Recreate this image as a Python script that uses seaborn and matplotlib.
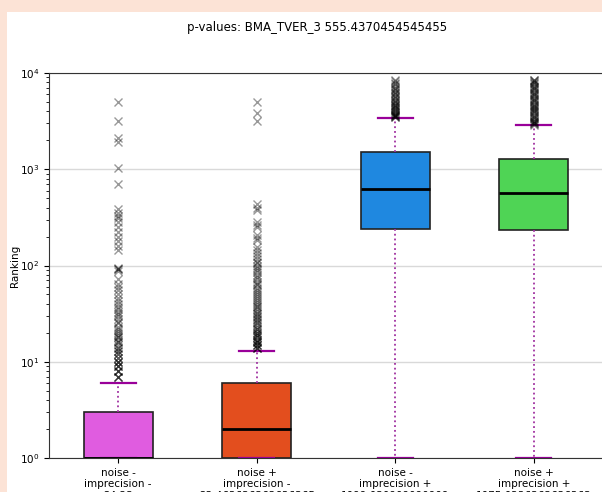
import matplotlib
matplotlib.use("Agg")
import matplotlib.pyplot as plt
from matplotlib.patches import Rectangle
import numpy as np
import pandas as pd
import seaborn as sns

# Experimental conditions (one box each) and their axis labels
groups = ["noise-/imprecision-", "noise+/imprecision-", "noise-/imprecision+", "noise+/imprecision+"]
tick_labels = [
    "noise -\nimprecision -\n24.23",
    "noise +\nimprecision -\n23.463636363636365",
    "noise -\nimprecision +\n1099.030909090909",
    "noise +\nimprecision +\n1075.0236363636363",
]
box_colors = ["#e05ce0", "#e34e1e", "#1f88e0", "#4fd455"]

# Five-number summaries of the rankings per condition
whisker_low = [1, 1, 1, 1]
lower_quartile = [1, 1, 239, 234]
median = [1, 2, 623, 567]
upper_quartile = [3, 6, 1511, 1290]
whisker_high = [6, 13, 3383, 2863]

# Rankings beyond the upper whisker
outliers_nn = [7, 7, 7, 8, 8, 8, 9, 9, 9, 10, 10, 10, 11, 11, 12, 12, 13, 13, 14, 14,
               15, 16, 16, 17, 18, 18, 19, 20, 21, 22, 23, 25, 26, 28, 30, 31, 33, 35,
               37, 40, 43, 46, 50, 55, 60, 65, 72, 88, 91, 93, 95, 145, 160, 180, 200,
               225, 250, 280, 310, 330, 350, 390, 700, 1040, 1930, 2130, 3180, 5040]
outliers_pn = [14, 14, 14, 15, 15, 15, 16, 16, 16, 17, 17, 18, 18, 19, 19, 20, 20, 21,
               22, 22, 23, 24, 25, 26, 27, 28, 29, 30, 31, 32, 34, 35, 37, 38, 40, 42,
               44, 46, 48, 50, 53, 56, 59, 62, 65, 68, 72, 76, 80, 85, 90, 95, 100, 105,
               110, 118, 125, 135, 145, 155, 183, 195, 208, 252, 265, 283, 380, 400, 435,
               3180, 3820, 5040]
outliers_ni = [3450, 3500, 3550, 3600, 3650, 3700, 3780, 3850, 3900, 4000, 4100, 4200,
               4300, 4400, 4500, 4600, 4700, 4850, 5000, 5150, 5300, 5450, 5600, 5800,
               6000, 6200, 6400, 6600, 6800, 7000, 7300, 7600, 7900, 8200, 8400]
outliers_pi = [2900, 2950, 3000, 3050, 3100, 3150, 3200, 3300, 3400, 3500, 3600, 3700,
               3800, 3900, 4000, 4100, 4200, 4300, 4400, 4500, 4650, 4800, 4950, 5100,
               5250, 5400, 5550, 5700, 5850, 6000, 6200, 6400, 6600, 6800, 7000, 7200,
               7400, 7600, 7800, 8000, 8200, 8400, 8500]
outliers = [outliers_nn, outliers_pn, outliers_ni, outliers_pi]

# Number of repeats per summary level so the quartiles come out as stated
body_weight = 120

records = []
for g, lo, q1, med, q3, hi, out in zip(groups, whisker_low, lower_quartile, median,
                                       upper_quartile, whisker_high, outliers):
    vals = [lo] + [q1] * body_weight + [med] * body_weight + [q3] * body_weight + [hi] + list(out)
    records.extend((g, v) for v in vals)
df = pd.DataFrame(records, columns=["group", "ranking"])

W, H = 602, 492
fig = plt.figure(figsize=(W / 100, H / 100), dpi=100, facecolor="#fce3d6")
fig.patches.append(Rectangle((7 / W, 0), 1, (H - 12) / H, transform=fig.transFigure,
                             facecolor="white", edgecolor="none", zorder=-10))

ax = fig.add_axes([49 / W, 34 / H, 554 / W, 385 / H])
ax.set_facecolor("white")

sns.boxplot(
    data=df, x="group", y="ranking", hue="group", order=groups, hue_order=groups,
    palette=box_colors, saturation=1, width=0.5, linecolor="#222222", linewidth=1.2,
    legend=False, ax=ax,
    medianprops=dict(color="black", linewidth=2),
    whiskerprops=dict(color="#a030a0", linestyle=":", linewidth=1.3),
    capprops=dict(color="#990099", linewidth=1.6),
    flierprops=dict(marker="x", markeredgecolor="black", markerfacecolor="none",
                    alpha=0.4, markersize=5.5, markeredgewidth=1),
)

ax.set_yscale("log")
ax.set_ylim(1, 1e4)
ax.set_xlim(-0.5, 3.5)
ax.set_xticks(range(len(groups)))
ax.set_xticklabels(tick_labels, fontsize=7.5)
ax.tick_params(axis="y", labelsize=7.5)
ax.set_xlabel("")
ax.set_ylabel("Ranking", fontsize=7.5)
ax.yaxis.set_label_coords(-29 / 554, 0.5)
ax.yaxis.grid(True, color="#d9d9d9", linewidth=1)
ax.xaxis.grid(False)
ax.set_axisbelow(True)
ax.spines["right"].set_visible(False)
for s in ax.spines.values():
    s.set_color("#333333")

fig.text(317 / W, 1 - 28 / H, "p-values: BMA_TVER_3 555.4370454545455",
         ha="center", va="center", fontsize=8.5)

fig.savefig("out.png", dpi=100, facecolor=fig.get_facecolor())
